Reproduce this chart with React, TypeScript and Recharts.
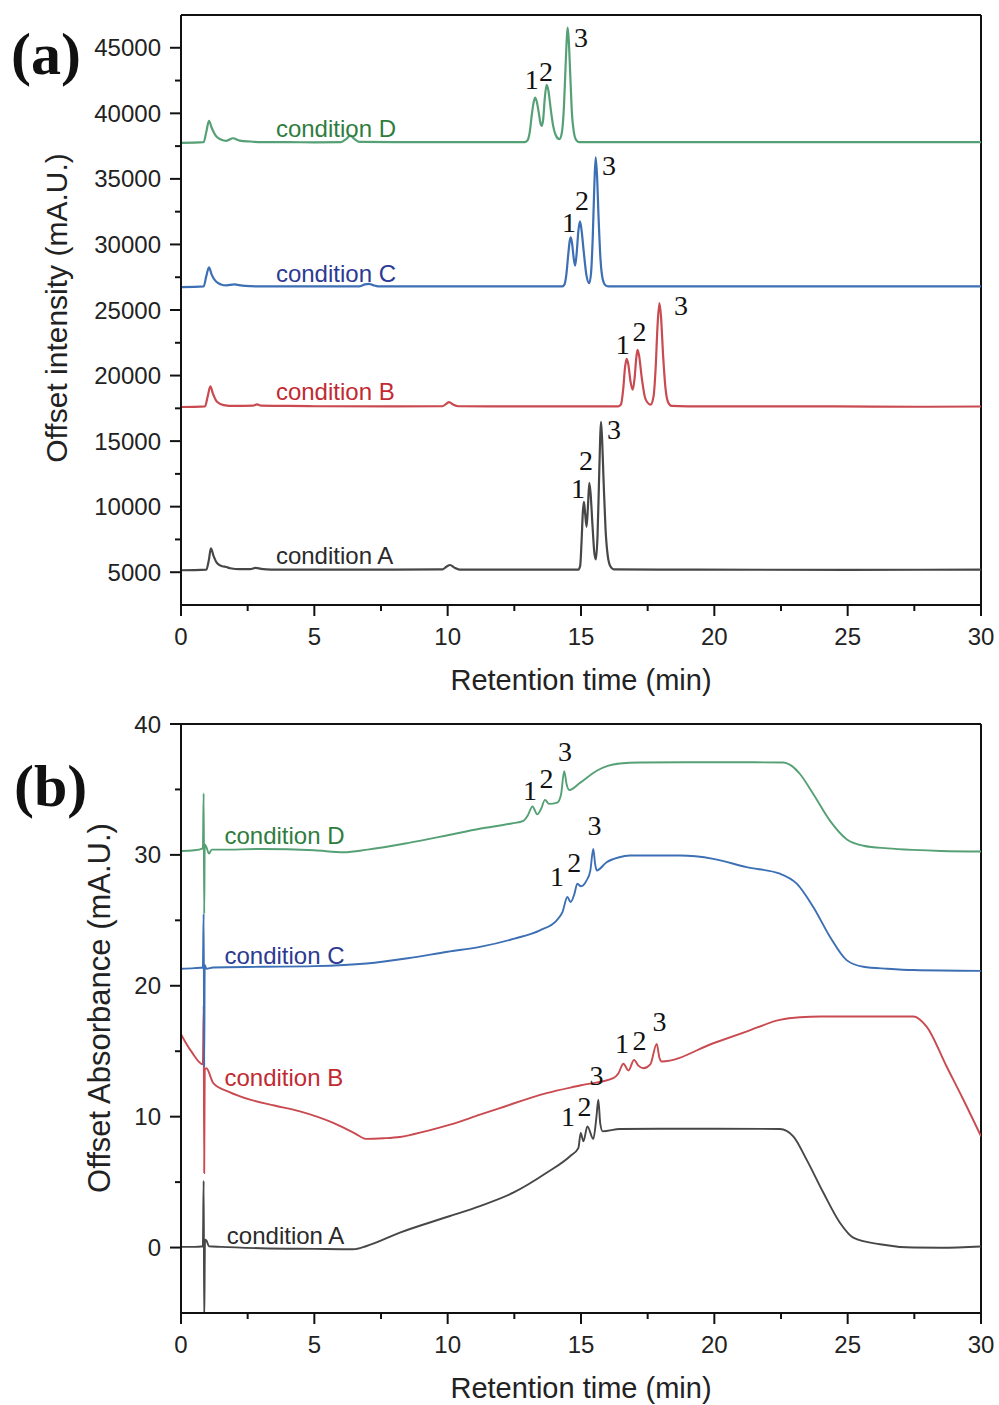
import { Line, LineChart, ReferenceDot, ReferenceLine, XAxis, YAxis } from "recharts";

type Pt = [number, number];

const sans = '"Liberation Sans", Arial, sans-serif';
const serif = '"Liberation Serif", "Times New Roman", serif';

const timeTicks = [0, 2.5, 5, 7.5, 10, 12.5, 15, 17.5, 20, 22.5, 25, 27.5, 30];
const intensityTicks = [5000, 7500, 10000, 12500, 15000, 17500, 20000, 22500, 25000, 27500, 30000, 32500, 35000, 37500, 40000, 42500, 45000];
const absorbanceTicks = [0, 5, 10, 15, 20, 25, 30, 35, 40];

// (a) offset intensity, mA.U.
const intensityA: Pt[] = [
  [0, 5150], [0.5, 5160], [0.95, 5200], [1.05, 6000], [1.12, 6820], [1.22, 6250], [1.35, 5700], [1.55, 5450],
  [1.7, 5400], [1.85, 5300], [2.2, 5230], [2.6, 5230], [2.8, 5330], [3.0, 5260], [3.4, 5200], [5, 5200], [8, 5200],
  [9.8, 5210], [9.95, 5420], [10.09, 5550], [10.25, 5350], [10.45, 5200], [12, 5200], [14.9, 5200], [14.97, 5500],
  [15.02, 7300], [15.07, 9600], [15.11, 10370], [15.15, 9600], [15.21, 8460], [15.26, 10000], [15.31, 11810],
  [15.36, 11000], [15.43, 8600], [15.5, 6500], [15.56, 5980], [15.62, 7800], [15.67, 11500], [15.72, 15300],
  [15.75, 16460], [15.79, 15200], [15.85, 11800], [15.92, 8300], [16.0, 6300], [16.1, 5450], [16.22, 5220],
  [18, 5200], [25, 5180], [30, 5200],
];
const intensityB: Pt[] = [
  [0, 17600], [0.5, 17610], [0.9, 17650], [1.0, 18400], [1.1, 19170], [1.2, 18600], [1.35, 18000], [1.6, 17750],
  [2, 17680], [2.7, 17700], [2.85, 17800], [3.0, 17700], [4, 17680], [5, 17660], [8, 17650], [9.8, 17660],
  [9.95, 17850], [10.05, 17980], [10.2, 17800], [10.4, 17660], [13, 17650], [16.4, 17650], [16.5, 17800],
  [16.58, 18900], [16.65, 20600], [16.71, 21280], [16.77, 20900], [16.86, 19500], [16.94, 18920], [17.01, 19800],
  [17.07, 21300], [17.12, 21970], [17.18, 21500], [17.28, 19800], [17.42, 18200], [17.61, 17780], [17.72, 18400],
  [17.8, 20600], [17.87, 23800], [17.94, 25520], [18.0, 24500], [18.08, 21500], [18.17, 19000], [18.27, 17950],
  [18.4, 17680], [19, 17650], [24, 17650], [28, 17620], [30, 17640],
];
const intensityC: Pt[] = [
  [0, 26750], [0.5, 26760], [0.85, 26800], [0.95, 27600], [1.05, 28260], [1.15, 27700], [1.3, 27200], [1.5, 26950],
  [1.7, 26880], [2.0, 26950], [2.3, 26860], [2.6, 26820], [3, 26800], [5, 26800], [6.7, 26800], [6.9, 26950],
  [7.05, 27000], [7.2, 26900], [7.4, 26800], [10, 26800], [12, 26800], [14.3, 26800], [14.38, 26950], [14.45, 27700],
  [14.52, 29200], [14.58, 30300], [14.62, 30540], [14.67, 30000], [14.73, 28900], [14.78, 28390], [14.84, 29400],
  [14.9, 31000], [14.96, 31760], [15.02, 31100], [15.1, 29500], [15.2, 27700], [15.31, 27040], [15.38, 27900],
  [15.44, 30500], [15.5, 34500], [15.55, 36640], [15.6, 35300], [15.66, 32000], [15.73, 28900], [15.82, 27300],
  [15.92, 26880], [16.05, 26800], [20, 26800], [25, 26800], [30, 26800],
];
const intensityD: Pt[] = [
  [0, 37750], [0.5, 37760], [0.85, 37800], [0.95, 38600], [1.05, 39430], [1.15, 38900], [1.3, 38300], [1.5, 38000],
  [1.7, 37900], [1.95, 38100], [2.2, 37920], [2.6, 37850], [3, 37800], [4, 37800], [5, 37790], [6, 37800],
  [6.2, 38050], [6.35, 38300], [6.5, 38050], [6.7, 37820], [8, 37800], [10, 37800], [12.9, 37800], [13.0, 37950],
  [13.08, 38600], [13.15, 39800], [13.22, 40800], [13.28, 41200], [13.34, 40900], [13.42, 40000], [13.48, 39250],
  [13.53, 39050], [13.58, 39500], [13.64, 41100], [13.71, 42170], [13.78, 41700], [13.86, 40400], [13.95, 39100],
  [14.05, 38350], [14.19, 38030], [14.28, 38500], [14.36, 40500], [14.42, 43500], [14.47, 45800], [14.5, 46530],
  [14.54, 45600], [14.6, 42800], [14.66, 40000], [14.73, 38600], [14.82, 37950], [14.92, 37810], [18, 37800],
  [22, 37800], [26, 37800], [30, 37800],
];

// (b) offset absorbance, mA.U.
const absorbanceA: Pt[] = [
  [0, 0.05], [0.5, 0.05], [0.82, 0.1], [0.85, 5.1], [0.87, -5.6], [0.9, 0.6], [0.95, 0.55], [1.05, 0.1], [1.5, 0.05],
  [3, -0.05], [5, -0.1], [6.46, -0.13], [6.96, 0.12], [8.21, 1.14], [10.09, 2.41], [11.21, 3.17], [12.46, 4.19],
  [13.71, 5.71], [14.59, 6.98], [14.9, 7.6], [14.99, 8.76], [15.09, 8.12], [15.24, 9.26], [15.46, 8.3], [15.58, 10.0],
  [15.65, 11.29], [15.72, 9.5], [15.81, 8.88], [16.46, 9.06], [18, 9.08], [20, 9.08], [22.46, 9.06], [22.96, 8.5],
  [23.46, 6.72], [24.09, 4.19], [24.71, 1.9], [25.21, 0.76], [26.21, 0.25], [27.46, 0], [28.5, -0.02], [30, 0.08],
];
const absorbanceB: Pt[] = [
  [0, 16.3], [0.15, 15.75], [0.4, 14.95], [0.82, 14.0], [0.85, 18.5], [0.87, 5.7], [0.89, 13.6], [0.95, 13.7],
  [1.21, 12.57], [1.8, 11.9], [2.59, 11.3], [3.5, 10.85], [4.46, 10.4], [5.71, 9.52], [6.5, 8.75], [6.96, 8.3],
  [7.6, 8.35], [8.21, 8.45], [9.2, 8.9], [10.09, 9.39], [11.21, 10.15], [11.96, 10.66], [13.71, 11.8], [15.0, 12.4],
  [16.21, 12.95], [16.4, 13.3], [16.59, 14.04], [16.78, 13.53], [16.99, 14.34], [17.15, 13.9], [17.34, 13.7],
  [17.6, 14.0], [17.84, 15.56], [17.94, 14.5], [18.03, 14.21], [19.96, 15.61], [21.2, 16.5], [22.46, 17.39],
  [23.21, 17.59], [24, 17.65], [27.46, 17.65], [27.96, 16.88], [28.71, 13.83], [29.34, 11.29], [30, 8.5],
];
const absorbanceC: Pt[] = [
  [0, 21.3], [0.5, 21.35], [0.82, 21.4], [0.85, 25.5], [0.87, 13.8], [0.89, 21.6], [0.95, 21.3], [1.2, 21.4],
  [3, 21.45], [5, 21.5], [6.96, 21.7], [8.5, 22.1], [10, 22.6], [11.21, 22.97], [12.5, 23.6], [13.46, 24.24],
  [14.09, 25.0], [14.3, 25.6], [14.49, 26.78], [14.61, 26.4], [14.75, 27.0], [14.86, 27.8], [15.0, 27.6],
  [15.21, 28.05], [15.35, 28.8], [15.46, 30.46], [15.53, 29.3], [15.59, 28.81], [15.96, 29.44], [16.4, 29.8],
  [16.84, 29.95], [18.71, 29.95], [19.96, 29.7], [21.21, 29.06], [22.46, 28.56], [23.09, 27.8], [23.71, 26.02],
  [24.34, 23.73], [24.96, 21.96], [25.59, 21.45], [26.5, 21.3], [27.46, 21.2], [30, 21.14],
];
const absorbanceD: Pt[] = [
  [0, 30.3], [0.5, 30.35], [0.82, 30.5], [0.85, 34.7], [0.87, 25.5], [0.89, 30.8], [0.95, 30.6], [1.05, 30.1],
  [1.15, 30.4], [1.5, 30.4], [3, 30.45], [5, 30.35], [6.1, 30.2], [7, 30.4], [8.5, 30.9], [10, 31.5], [11.2, 32.0],
  [12.4, 32.4], [12.84, 32.6], [13.0, 33.0], [13.18, 33.7], [13.36, 33.1], [13.5, 33.5], [13.65, 34.2], [13.8, 33.9],
  [14.11, 34.0], [14.25, 34.6], [14.37, 36.4], [14.46, 35.4], [14.56, 34.96], [14.96, 35.5], [15.59, 36.43],
  [16.0, 36.8], [16.46, 36.98], [17.2, 37.06], [20, 37.08], [22.59, 37.06], [22.9, 36.8], [23.21, 36.18],
  [23.71, 34.65], [24.34, 32.6], [24.96, 31.2], [25.59, 30.7], [26.5, 30.5], [27.46, 30.38], [28.5, 30.3], [30, 30.26],
];

const conditions = ["condition A", "condition B", "condition C", "condition D"];
const lineColors = ["#474747", "#c94a50", "#3c6fb4", "#55a074"];
const textColors = ["#2a2a2a", "#c22a32", "#2c3a92", "#2f7d3e"];

// where the condition names and peak numbers sit, in data units
const intensityNotes: Pt[] = [[3.56, 6307], [3.56, 18779], [3.56, 27756], [3.56, 38857]];
const absorbanceNotes: Pt[] = [[1.72, 0.9], [1.63, 12.97], [1.63, 22.34], [1.63, 31.48]];
const peakNames = ["1", "2", "3"];
const intensityPeaks: Pt[][] = [
  [[14.89, 11410], [15.19, 13540], [16.24, 15900]],
  [[16.57, 22370], [17.19, 23360], [18.75, 25340]],
  [[14.55, 31740], [15.04, 33410], [16.05, 36080]],
  [[13.15, 42630], [13.69, 43200], [15.0, 45820]],
];
const absorbancePeaks: Pt[][] = [
  [[14.51, 10.06], [15.13, 10.8], [15.58, 13.2]],
  [[16.54, 15.64], [17.19, 15.87], [17.94, 17.3]],
  [[14.1, 28.35], [14.75, 29.42], [15.51, 32.3]],
  [[13.09, 34.98], [13.71, 35.89], [14.4, 37.9]],
];

const toRows = (pts: Pt[]) => pts.map(([t, v]) => ({ t, v }));

function BottomTick(props: any) {
  const { x, y, payload } = props;
  const major = payload.value % 5 === 0;
  return (
    <g>
      <line x1={x} y1={y} x2={x} y2={y + (major ? 11 : 6)} stroke="#111" strokeWidth={2} />
      {major && (
        <text x={x} y={y + 40} textAnchor="middle" fontSize={24} fontFamily={sans} fill="#222">
          {payload.value}
        </text>
      )}
    </g>
  );
}

function LeftTick(props: any) {
  const { x, y, payload, step } = props;
  const major = payload.value % step === 0;
  return (
    <g>
      <line x1={x} y1={y} x2={x - (major ? 11 : 6)} y2={y} stroke="#111" strokeWidth={2} />
      {major && (
        <text x={x - 20} y={y + 8.5} textAnchor="end" fontSize={24} fontFamily={sans} fill="#222">
          {payload.value}
        </text>
      )}
    </g>
  );
}

interface PanelProps {
  series: Pt[][];
  domain: [number, number];
  ticks: number[];
  step: number;
  notes: Pt[];
  peaks: Pt[][];
  height: number;
  plotTop: number;
  axisHeight: number;
  lineWidth: number;
}

function Panel({ series, domain, ticks, step, notes, peaks, height, plotTop, axisHeight, lineWidth }: PanelProps) {
  return (
    <LineChart width={999} height={height} margin={{ top: plotTop, right: 18, bottom: 0, left: 0 }}>
      <XAxis
        dataKey="t"
        type="number"
        domain={[0, 30]}
        ticks={timeTicks}
        interval={0}
        allowDataOverflow
        height={axisHeight}
        tickSize={0}
        tickMargin={0}
        tickLine={false}
        axisLine={{ stroke: "#111", strokeWidth: 2 }}
        tick={(p: any) => <BottomTick {...p} />}
      />
      <YAxis
        type="number"
        domain={domain}
        ticks={ticks}
        interval={0}
        allowDataOverflow
        width={181}
        tickSize={0}
        tickMargin={0}
        tickLine={false}
        axisLine={{ stroke: "#111", strokeWidth: 2 }}
        tick={(p: any) => <LeftTick {...p} step={step} />}
      />
      <ReferenceLine y={domain[1]} stroke="#111" strokeWidth={2} />
      <ReferenceLine x={30} stroke="#111" strokeWidth={2} />
      {series.map((pts, i) => (
        <Line
          key={conditions[i]}
          data={toRows(pts)}
          dataKey="v"
          type="monotone"
          stroke={lineColors[i]}
          strokeWidth={lineWidth}
          dot={false}
          activeDot={false}
          isAnimationActive={false}
        />
      ))}
      {notes.map(([t, v], i) => (
        <ReferenceDot
          key={`note-${i}`}
          x={t}
          y={v}
          r={0}
          fill="none"
          stroke="none"
          label={{ value: conditions[i], position: "right", offset: 0, fill: textColors[i], fontSize: 24, fontFamily: sans }}
        />
      ))}
      {peaks.flatMap((group, i) =>
        group.map(([t, v], j) => (
          <ReferenceDot
            key={`peak-${i}-${j}`}
            x={t}
            y={v}
            r={0}
            fill="none"
            stroke="none"
            label={{ value: peakNames[j], position: "center", fill: "#111", fontSize: 28, fontFamily: serif }}
          />
        ))
      )}
    </LineChart>
  );
}

export default function App() {
  return (
    <div style={{ position: "absolute", left: 0, top: 0, width: 999, height: 1405, background: "#fff" }}>
      <div style={{ position: "absolute", left: 0, top: 0 }}>
        <Panel
          series={[intensityA, intensityB, intensityC, intensityD]}
          domain={[2500, 47500]}
          ticks={intensityTicks}
          step={5000}
          notes={intensityNotes}
          peaks={intensityPeaks}
          height={700}
          plotTop={15}
          axisHeight={95}
          lineWidth={2.2}
        />
      </div>
      <div style={{ position: "absolute", left: 0, top: 700 }}>
        <Panel
          series={[absorbanceA, absorbanceB, absorbanceC, absorbanceD]}
          domain={[-5, 40]}
          ticks={absorbanceTicks}
          step={10}
          notes={absorbanceNotes}
          peaks={absorbancePeaks}
          height={705}
          plotTop={24}
          axisHeight={92}
          lineWidth={1.9}
        />
      </div>
      <svg width={999} height={1405} style={{ position: "absolute", left: 0, top: 0, pointerEvents: "none" }}>
        <text x={11} y={74} fontSize={60} fontWeight="bold" fontFamily={serif} fill="#111">(a)</text>
        <text x={14} y={806} fontSize={60} fontWeight="bold" fontFamily={serif} fill="#111">(b)</text>
        <text x={67} y={308} transform="rotate(-90 67 308)" textAnchor="middle" fontSize={30} fontFamily={sans} fill="#222">
          Offset intensity (mA.U.)
        </text>
        <text x={110} y={1008} transform="rotate(-90 110 1008)" textAnchor="middle" fontSize={31} fontFamily={sans} fill="#222">
          Offset Absorbance (mA.U.)
        </text>
        <text x={581} y={690} textAnchor="middle" fontSize={29} fontFamily={sans} fill="#222">Retention time (min)</text>
        <text x={581} y={1398} textAnchor="middle" fontSize={29} fontFamily={sans} fill="#222">Retention time (min)</text>
      </svg>
    </div>
  );
}
